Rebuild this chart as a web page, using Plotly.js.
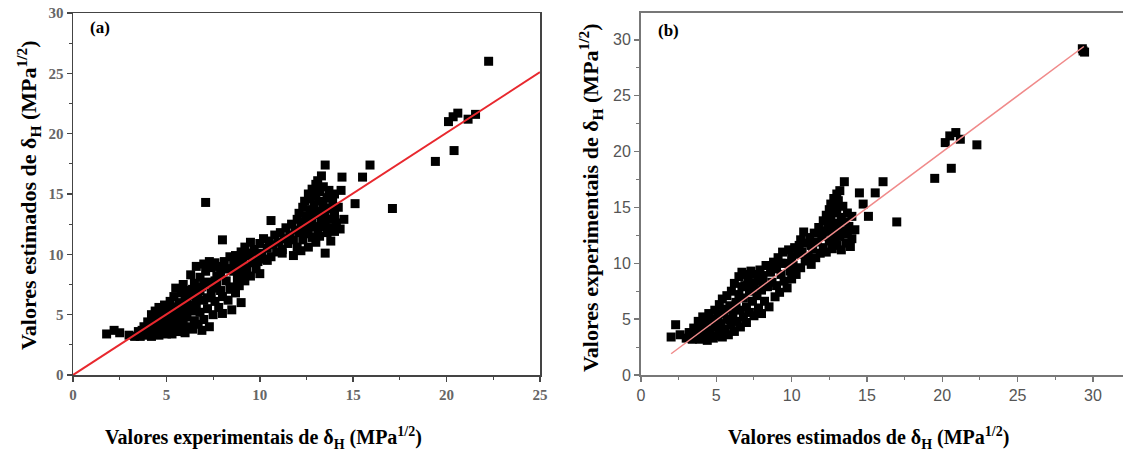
<!DOCTYPE html>
<html><head><meta charset="utf-8">
<script src="https://cdn.plot.ly/plotly-3.0.1.min.js"></script>
<style>body{margin:0;background:#fff}#c{width:1123px;height:453px}</style>
</head><body><div id="c"></div>
<script>
// Panel (a): experimental (x) vs estimated (y)
const aX = [1.8,2.2,2.5,3.0,3.3,3.5,3.6,3.8,3.9,
4.0,4.0,4.1,4.2,4.2,4.3,4.4,4.4,4.5,4.6,4.6,4.7,4.7,4.8,4.8,4.9,4.9,5.0,5.0,
5.1,5.1,5.2,5.2,5.3,5.3,5.4,5.4,5.5,5.5,5.6,5.6,5.7,5.7,5.8,5.8,5.9,5.9,6.0,6.0,
6.1,6.1,6.2,6.2,6.3,6.3,6.4,6.4,6.5,6.5,6.6,6.6,6.7,6.7,6.8,6.8,6.9,6.9,7.0,7.0,7.0,
7.1,
7.1,7.2,7.2,7.3,7.3,7.4,7.4,7.5,7.5,7.6,7.6,7.7,7.8,7.8,7.9,7.9,8.0,8.0,8.0,
8.1,8.2,8.3,8.3,8.4,8.5,8.5,8.6,8.7,8.7,8.8,8.9,8.9,9.0,9.0,9.0,
9.1,9.2,9.2,9.3,9.4,9.5,9.5,9.6,9.7,9.8,9.8,9.9,10.0,10.0,
10.1,10.2,10.3,10.4,10.5,10.6,10.6,10.7,10.8,10.9,11.0,
11.1,11.2,11.3,11.4,11.5,11.6,11.7,11.8,11.8,11.9,12.0,12.0,
12.1,12.1,12.2,12.2,12.3,12.3,12.4,12.4,12.5,12.5,12.6,12.6,12.6,12.7,12.7,12.8,12.8,12.8,12.9,12.9,13.0,13.0,13.0,13.0,
13.1,13.1,13.1,13.2,13.2,13.2,13.3,13.3,13.3,13.4,13.4,13.5,13.5,13.5,13.5,13.6,13.6,13.7,13.7,13.8,13.8,13.9,13.9,14.0,14.0,14.0,
14.1,14.2,14.3,14.4,14.35,14.5,15.1,15.5,15.9,17.1,19.4,20.1,20.35,20.6,20.4,21.15,21.55,22.25,
3.7,4.1,4.3,4.5,4.8,5.0,5.2,5.4,5.6,5.8,6.0,6.2,6.4,6.6,6.8,7.2,7.6,8.2,8.6,9.4,
4.6,5.3,5.9,6.5,7.0,7.7,8.4,9.1,10.4,11.2];
const aY = [3.4,3.7,3.5,3.3,3.2,3.6,3.2,4.0,3.4,
3.3,4.4,3.8,5.0,3.2,4.2,3.6,5.3,4.6,3.3,5.6,4.0,4.9,3.6,5.3,4.3,5.8,3.4,4.8,
5.4,3.9,6.1,4.4,3.4,5.0,6.5,4.0,5.6,7.2,4.6,3.6,6.0,5.2,3.9,6.8,4.4,7.5,5.6,3.5,
6.3,4.8,7.0,4.0,8.3,5.4,6.6,3.8,7.6,4.5,9.0,5.9,6.9,4.2,8.1,5.2,7.3,3.7,9.2,6.2,4.6,
14.3,
8.6,5.5,7.7,9.4,4.0,6.8,8.9,5.0,7.2,9.3,6.1,8.2,5.6,9.0,7.0,8.4,11.2,6.5,5.1,
9.4,7.8,8.8,6.2,9.8,7.3,5.4,8.6,9.9,6.8,8.0,9.3,7.4,10.2,8.6,6.0,
9.6,7.8,10.6,8.9,9.9,8.2,11.0,9.3,10.4,8.8,10.0,9.4,10.9,8.4,
10.1,11.3,9.6,10.5,11.1,12.8,9.8,10.8,11.6,10.2,11.0,
11.8,10.4,11.3,12.2,10.9,11.6,12.5,9.9,11.2,12.0,12.9,10.6,
11.8,13.4,12.3,10.3,13.9,11.2,12.7,14.4,11.7,13.2,15.0,12.1,10.6,13.7,14.6,11.4,12.8,15.4,13.3,14.1,12.3,15.8,11.0,14.8,
13.6,16.1,12.0,14.4,15.2,11.5,13.0,16.5,12.6,14.0,15.6,10.1,12.3,17.4,13.5,14.7,11.8,12.9,15.3,13.8,11.1,14.5,12.2,13.3,15.0,11.9,
12.6,13.9,12.1,16.4,15.3,12.9,14.2,16.4,17.4,13.8,17.7,21.0,21.4,21.7,18.6,21.2,21.6,26.0,
3.7,3.5,4.7,3.9,4.1,4.1,5.7,4.7,5.3,5.0,6.4,5.8,7.1,6.4,7.0,6.4,7.8,8.8,9.2,10.1,
4.2,4.2,5.0,5.3,7.6,7.6,7.1,8.2,9.5,10.1];
const aLineX = [0, 25];
const aLineY = [0, 25.1];

// Panel (b): estimated (x) vs experimental (y)
const bX = [2.0,2.3,2.6,3.0,3.2,3.4,3.5,3.7,3.8,3.9,
4.0,4.1,4.2,4.3,4.4,4.5,4.6,4.7,4.8,4.9,5.0,5.0,
5.1,5.2,5.2,5.3,5.4,5.4,5.5,5.6,5.7,5.7,5.8,5.9,6.0,6.0,
6.1,6.2,6.2,6.3,6.4,6.5,6.5,6.6,6.6,6.7,6.8,6.8,6.9,7.0,7.0,7.0,
7.1,7.2,7.2,7.3,7.4,7.4,7.5,7.6,7.7,7.8,7.8,7.9,8.0,8.0,
8.1,8.2,8.3,8.4,8.5,8.6,8.7,8.8,8.9,9.0,9.0,
9.1,9.2,9.3,9.4,9.5,9.6,9.7,9.8,9.9,10.0,10.0,
10.1,10.2,10.3,10.4,10.6,10.8,10.6,10.7,10.9,11.0,
11.1,11.2,11.3,11.4,11.5,11.6,11.7,11.8,11.9,12.0,
12.1,12.1,12.2,12.3,12.3,12.4,12.5,12.5,12.6,12.6,12.7,12.7,12.8,12.8,12.9,12.9,13.0,13.0,13.0,
13.1,13.1,13.2,13.2,13.3,13.3,13.4,13.4,13.5,13.5,13.6,13.7,13.7,13.8,13.9,14.0,14.0,
14.2,14.5,14.75,15.1,15.55,16.07,16.98,19.5,20.2,20.5,20.9,21.2,22.3,20.6,29.3,29.45,29.35,
3.6,4.0,4.4,4.6,4.9,5.3,5.6,5.9,6.3,6.7,7.1,7.5,8.1,8.7,9.3,9.9,10.5,11.3,12.1,12.6];
const bY = [3.4,4.5,3.6,3.3,3.8,3.2,4.2,3.5,4.8,3.2,
4.0,5.2,3.4,4.5,3.1,5.5,3.8,4.9,3.3,5.8,4.3,3.5,
5.1,6.3,3.8,4.6,6.8,3.4,5.5,4.1,7.1,5.0,3.6,6.2,4.5,7.5,
5.4,8.2,3.9,6.5,4.8,8.8,7.2,5.8,4.3,9.2,6.9,5.2,8.0,9.0,6.1,4.7,
8.6,5.6,7.5,9.3,6.6,8.2,5.3,9.0,7.1,8.4,6.0,9.4,7.6,5.5,
8.9,6.6,9.8,7.9,6.1,9.2,8.3,10.1,7.0,9.5,8.0,
10.5,7.4,9.0,11.0,8.4,10.0,7.8,11.2,9.3,8.6,10.6,
9.8,11.4,9.0,10.8,12.1,12.8,9.6,11.0,10.2,11.8,
10.6,12.3,9.9,11.3,12.7,10.5,11.9,13.2,10.9,12.4,
13.8,11.4,12.9,14.3,11.0,13.4,14.8,12.0,13.9,15.3,12.6,11.3,14.5,15.8,13.2,12.1,16.2,14.9,11.6,
13.6,15.6,12.4,16.5,14.1,11.2,15.1,12.9,17.3,13.7,11.8,14.5,12.6,13.3,11.5,14.2,12.2,
13.0,16.3,15.3,14.2,16.3,17.3,13.7,17.6,20.8,21.4,21.7,21.1,20.6,18.5,29.2,28.9,29.0,
3.9,4.6,4.0,5.0,4.6,5.5,5.9,4.9,6.0,7.9,8.0,7.9,8.3,9.6,10.0,9.7,11.6,11.6,12.8,12.9];
const bLineX = [2.0, 29.4];
const bLineY = [1.9, 29.4];

const xTicks = [0,5,10,15,20,25,30];

const serifBold = {family:'"Liberation Serif", "Times New Roman", serif', size:15, color:'#666', weight:'bold'};
const sansTick = {family:'"Liberation Sans", Arial, sans-serif', size:16, color:'#555'};
const titleX = {family:'"Liberation Serif", "Times New Roman", serif', size:20, color:'#000', weight:'bold'};
const titleY = {family:'"Liberation Serif", "Times New Roman", serif', size:22, color:'#000', weight:'bold'};

const traces = [
  {x:aX, y:aY, type:'scatter', mode:'markers', xaxis:'x', yaxis:'y',
   marker:{symbol:'square', size:9, color:'#000'}, showlegend:false},
  {x:aLineX, y:aLineY, type:'scatter', mode:'lines', xaxis:'x', yaxis:'y',
   line:{color:'#e8282e', width:2}, showlegend:false},
  {x:bX, y:bY, type:'scatter', mode:'markers', xaxis:'x2', yaxis:'y2',
   marker:{symbol:'square', size:9, color:'#000'}, showlegend:false},
  {x:bLineX, y:bLineY, type:'scatter', mode:'lines', xaxis:'x2', yaxis:'y2',
   line:{color:'#f08a8a', width:1.5}, showlegend:false}
];

const axA = {showgrid:false, zeroline:false, showline:true, linecolor:'#444', linewidth:1.5,
  mirror:true, ticks:'outside', ticklen:5, tickwidth:1.5, tickcolor:'#444',
  minor:{ticks:'outside', ticklen:3, tickwidth:1, tickcolor:'#444', dtick:2.5},
  tickfont:serifBold};
const axB = {showgrid:false, zeroline:false, showline:true, linecolor:'#777', linewidth:2,
  ticks:'outside', ticklen:5, tickwidth:1.5, tickcolor:'#777',
  minor:{ticks:'outside', ticklen:3, tickwidth:1, tickcolor:'#777', dtick:2.5},
  tickfont:sansTick};

const layout = {
  width:1123, height:453,
  margin:{l:0, r:0, t:13, b:78},
  paper_bgcolor:'#fff', plot_bgcolor:'#fff',
  xaxis:Object.assign({}, axA, {domain:[73/1123, 540/1123], range:[0,25], tickvals:xTicks.slice(0,6), anchor:'y'}),
  yaxis:Object.assign({}, axA, {domain:[0,1], range:[0,30], tickvals:[0,5,10,15,20,25,30], anchor:'x'}),
  xaxis2:Object.assign({}, axB, {domain:[641/1123, 1], range:[0,32], tickvals:xTicks, anchor:'y2', mirror:true}),
  yaxis2:Object.assign({}, axB, {domain:[0,1], range:[0,32.4], tickvals:[0,5,10,15,20,25,30], anchor:'x2'}),
  annotations:[
    {text:'(a)', x:100, y:28, font:{family:titleX.family, size:17, color:'#000', weight:'bold'}},
    {text:'(b)', x:668, y:30, font:{family:titleX.family, size:17, color:'#000', weight:'bold'}},
    {text:'Valores experimentais de δ<sub>H</sub> (MPa<sup>1/2</sup>)', x:263, y:438, font:titleX},
    {text:'Valores estimados de δ<sub>H</sub> (MPa<sup>1/2</sup>)', x:868, y:438, font:titleX},
    {text:'Valores estimados de δ<sub>H</sub> (MPa<sup>1/2</sup>)', x:29, y:195, textangle:-90, font:titleY},
    {text:'Valores experimentais de δ<sub>H</sub> (MPa<sup>1/2</sup>)', x:590, y:198, textangle:-90, font:titleY}
  ]
};
// convert pixel positions of annotations into paper coordinates
const plotW = 1123, plotH = 453 - 13 - 78;
layout.annotations.forEach(a => {
  a.showarrow = false;
  a.xref = 'paper'; a.yref = 'paper';
  a.x = a.x / plotW;
  a.y = (453 - 78 - a.y) / plotH;
  a.xanchor = 'center'; a.yanchor = 'middle';
});

Plotly.newPlot('c', traces, layout, {staticPlot:true, displayModeBar:false});
</script>
</body></html>
